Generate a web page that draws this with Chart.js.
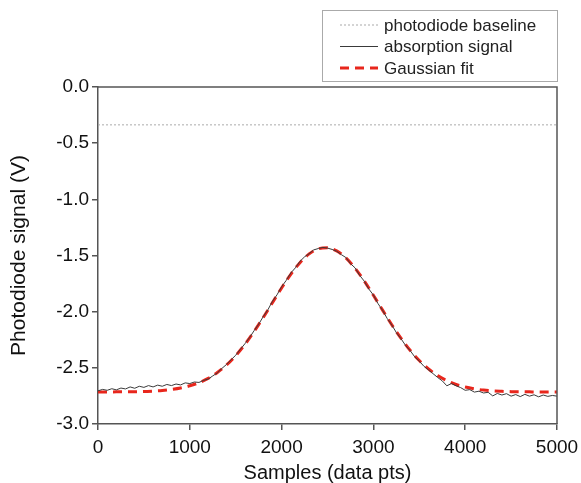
<!DOCTYPE html>
<html>
<head>
<meta charset="utf-8">
<script src="https://cdn.jsdelivr.net/npm/chart.js@4/dist/chart.umd.min.js"></script>
<style>
  html, body { margin: 0; padding: 0; background: #fff; }
  #wrap { width: 581px; height: 483px; }
</style>
</head>
<body>
<div id="wrap"><canvas id="plot" width="581" height="483"></canvas></div>
<script>
// photodiode baseline (flat, dotted)
const baselineX = [0, 5000];
const baselineY = [-0.337, -0.337];

const signalX = [
  0, 50, 100, 150, 200, 250, 300, 350, 400, 450,
  500, 550, 600, 650, 700, 750, 800, 850, 900, 950,
  1000, 1050, 1100, 1150, 1200, 1250, 1300, 1350, 1400, 1450,
  1500, 1550, 1600, 1650, 1700, 1750, 1800, 1850, 1900, 1950,
  2000, 2050, 2100, 2150, 2200, 2250, 2300, 2350, 2400, 2450,
  2500, 2550, 2600, 2650, 2700, 2750, 2800, 2850, 2900, 2950,
  3000, 3050, 3100, 3150, 3200, 3250, 3300, 3350, 3400, 3450,
  3500, 3550, 3600, 3650, 3700, 3750, 3800, 3850, 3900, 3950,
  4000, 4050, 4100, 4150, 4200, 4250, 4300, 4350, 4400, 4450,
  4500, 4550, 4600, 4650, 4700, 4750, 4800, 4850, 4900, 4950,
  5000
];
const signalY = [
  -2.705, -2.692, -2.700, -2.686, -2.696, -2.680, -2.688, -2.670, -2.682, -2.664,
  -2.674, -2.658, -2.670, -2.654, -2.664, -2.648, -2.658, -2.644, -2.652, -2.634,
  -2.640, -2.626, -2.630, -2.612, -2.600, -2.572, -2.545, -2.505, -2.470, -2.428,
  -2.388, -2.336, -2.286, -2.232, -2.170, -2.112, -2.044, -1.984, -1.908, -1.850,
  -1.778, -1.722, -1.656, -1.610, -1.552, -1.512, -1.484, -1.450, -1.438, -1.428,
  -1.434, -1.446, -1.462, -1.492, -1.518, -1.572, -1.610, -1.676, -1.728, -1.798,
  -1.852, -1.928, -1.988, -2.060, -2.118, -2.186, -2.240, -2.300, -2.346, -2.402,
  -2.440, -2.486, -2.518, -2.552, -2.586, -2.616, -2.660, -2.640, -2.660, -2.676,
  -2.700, -2.694, -2.716, -2.708, -2.724, -2.718, -2.750, -2.728, -2.742, -2.730,
  -2.752, -2.738, -2.756, -2.736, -2.752, -2.740, -2.758, -2.742, -2.754, -2.746,
  -2.752
];

// Gaussian fit curve, read every 100 samples
const fitX = [
  0, 100, 200, 300, 400, 500, 600, 700, 800, 900,
  1000, 1100, 1200, 1300, 1400, 1500, 1600, 1700, 1800, 1900,
  2000, 2100, 2200, 2300, 2400, 2500, 2600, 2700, 2800, 2900,
  3000, 3100, 3200, 3300, 3400, 3500, 3600, 3700, 3800, 3900,
  4000, 4100, 4200, 4300, 4400, 4500, 4600, 4700, 4800, 4900,
  5000
];
const fitY = [
  -2.715, -2.715, -2.714, -2.714, -2.713, -2.711, -2.707, -2.702, -2.693, -2.680,
  -2.660, -2.632, -2.594, -2.542, -2.475, -2.391, -2.292, -2.177, -2.052, -1.920,
  -1.789, -1.667, -1.564, -1.486, -1.440, -1.431, -1.459, -1.521, -1.613, -1.726,
  -1.854, -1.986, -2.116, -2.236, -2.344, -2.435, -2.510, -2.569, -2.614, -2.648,
  -2.671, -2.687, -2.698, -2.705, -2.709, -2.712, -2.713, -2.714, -2.715, -2.715,
  -2.715
];

const xTicks = [0, 1000, 2000, 3000, 4000, 5000];
const yTicks = [0.0, -0.5, -1.0, -1.5, -2.0, -2.5, -3.0];

const FONT = "'Liberation Sans', Arial, sans-serif";
const pts = (xs, ys) => xs.map((x, i) => ({ x: x, y: ys[i] }));

// box on top/right of the plot + the framed legend in the corner
const frameAndLegend = {
  id: 'frameAndLegend',
  afterDraw(chart) {
    const { ctx, chartArea: a } = chart;
    ctx.save();
    ctx.strokeStyle = '#555';
    ctx.lineWidth = 1.5;
    ctx.beginPath();
    ctx.moveTo(a.left, a.top);
    ctx.lineTo(a.right, a.top);
    ctx.lineTo(a.right, a.bottom);
    ctx.stroke();

    // legend
    ctx.strokeStyle = '#aaa';
    ctx.lineWidth = 1;
    ctx.strokeRect(322.5, 10.5, 235, 71);
    ctx.font = '17px ' + FONT;
    ctx.textBaseline = 'middle';
    ctx.fillStyle = '#222';
    chart.data.datasets.forEach((ds, i) => {
      const y = 25 + i * 21.5;
      ctx.save();
      ctx.strokeStyle = ds.borderColor;
      ctx.lineWidth = ds.borderWidth;
      ctx.setLineDash(ds.borderDash || []);
      ctx.beginPath();
      ctx.moveTo(340, y);
      ctx.lineTo(378, y);
      ctx.stroke();
      ctx.restore();
      ctx.fillText(ds.label, 384, y + 1);
    });
    ctx.restore();
  }
};

new Chart(document.getElementById('plot'), {
  type: 'line',
  data: {
    datasets: [
      {
        label: 'photodiode baseline',
        data: pts(baselineX, baselineY),
        borderColor: '#aaa',
        borderWidth: 1,
        borderDash: [2, 2],
        pointRadius: 0
      },
      {
        label: 'absorption signal',
        data: pts(signalX, signalY),
        borderColor: '#3a3a3a',
        borderWidth: 1,
        pointRadius: 0,
        tension: 0
      },
      {
        label: 'Gaussian fit',
        data: pts(fitX, fitY),
        borderColor: '#e8261c',
        borderWidth: 3,
        borderDash: [9, 6],
        pointRadius: 0,
        cubicInterpolationMode: 'monotone'
      }
    ]
  },
  options: {
    responsive: false,
    animation: false,
    layout: { padding: { top: 87, right: 24, left: 0, bottom: 0 } },
    plugins: {
      legend: { display: false },
      tooltip: { enabled: false }
    },
    scales: {
      x: {
        type: 'linear',
        min: 0,
        max: 5000,
        afterFit: s => { s.height = 59; s.paddingLeft = 0; s.paddingRight = 0; },
        afterBuildTicks: s => { s.ticks = xTicks.map(v => ({ value: v })); },
        grid: { drawOnChartArea: false, drawTicks: true, tickLength: 6, color: '#555', lineWidth: 1.5 },
        border: { color: '#555', width: 1.5 },
        ticks: {
          color: '#111',
          font: { family: FONT, size: 19 },
          padding: 6,
          maxRotation: 0,
          callback: v => String(v)
        },
        title: {
          display: true,
          text: 'Samples (data pts)',
          color: '#111',
          font: { family: FONT, size: 20, lineHeight: 1 },
          padding: { top: 0, bottom: 0 }
        }
      },
      y: {
        type: 'linear',
        min: -3,
        max: 0,
        afterFit: s => { s.width = 98; s.paddingTop = 0; s.paddingBottom = 0; },
        afterBuildTicks: s => { s.ticks = yTicks.map(v => ({ value: v })); },
        grid: { drawOnChartArea: false, drawTicks: true, tickLength: 6, color: '#555', lineWidth: 1.5 },
        border: { color: '#555', width: 1.5 },
        ticks: {
          color: '#111',
          font: { family: FONT, size: 19 },
          padding: 3,
          callback: v => v.toFixed(1)
        },
        title: {
          display: true,
          text: 'Photodiode signal (V)',
          color: '#111',
          font: { family: FONT, size: 21, lineHeight: 1 },
          padding: { top: 9, bottom: 0 }
        }
      }
    }
  },
  plugins: [frameAndLegend]
});
</script>
</body>
</html>
